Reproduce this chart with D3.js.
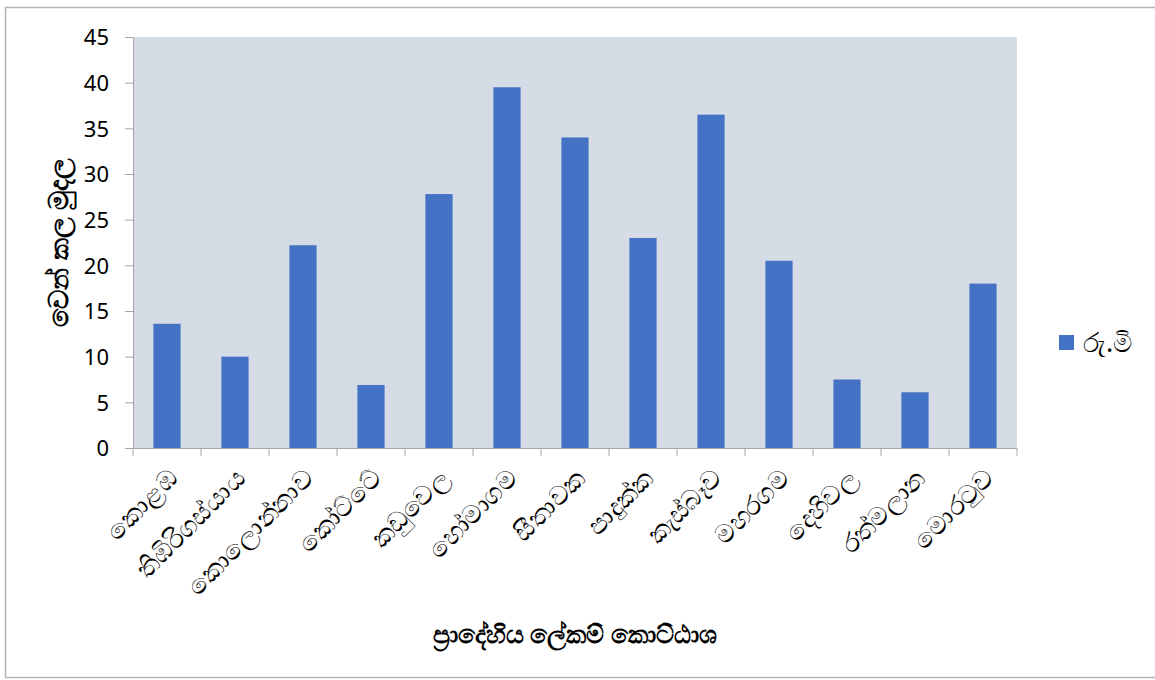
<!DOCTYPE html>
<html>
<head>
<meta charset="utf-8">
<script src="https://cdn.jsdelivr.net/npm/d3@7"></script>
<style>
  body { margin: 0; background: #fff; }
  text { font-family: "Noto Sans", "Open Sans", sans-serif; fill: #000; }
</style>
</head>
<body>
<div class="canva"></div>
<script>
const divisions = ["කොළඹ", "තිඹිරිගස්යාය", "කොලොන්නාව", "කෝට්ටේ", "කඩුවෙල",
  "හෝමාගම", "සීතාවක", "පාදුක්ක", "කැස්බෑව", "මහරගම", "දෙහිවල", "රත්මලාන", "මොරටුව"];
const amounts = [13.6, 10, 22.2, 6.9, 27.8, 39.5, 34, 23, 36.5, 20.5, 7.5, 6.1, 18];
const yTicks = [0, 5, 10, 15, 20, 25, 30, 35, 40, 45];
const seriesName = "රු.මි";
const xTitle = "ප්‍රාදේහිය ලේකම් කොට්ඨාශ";
const yTitle = "වෙන් කල මුදල";

const width = 1155, height = 680;
const margin = {top: 37, right: 138, bottom: 232, left: 133};
const graphWidth = width - margin.left - margin.right;
const graphHeight = height - margin.top - margin.bottom;

const svg = d3.select(".canva").append("svg")
  .attr("width", width)
  .attr("height", height);

// outer chart border
svg.append("rect")
  .attr("x", 5.5).attr("y", 7.5)
  .attr("width", 1160).attr("height", 670)
  .attr("fill", "none")
  .attr("stroke", "#b4b4b4")
  .attr("stroke-width", 1.5);

const g = svg.append("g")
  .attr("transform", `translate(${margin.left}, ${margin.top})`);

const x = d3.scaleBand()
  .domain(divisions)
  .range([0, graphWidth])
  .paddingInner(0.6)
  .paddingOuter(0.3);

const y = d3.scaleLinear()
  .domain([0, 45])
  .range([graphHeight, 0]);

g.append("rect")
  .attr("width", graphWidth)
  .attr("height", graphHeight)
  .attr("fill", "#d6dce6");

g.selectAll(".bar")
  .data(amounts)
  .enter()
  .append("rect")
  .attr("class", "bar")
  .attr("x", (d, i) => x(divisions[i]))
  .attr("y", d => y(d))
  .attr("width", x.bandwidth())
  .attr("height", d => graphHeight - y(d))
  .attr("fill", "#4472c4");

// y axis
const yAxis = d3.axisLeft(y)
  .tickValues(yTicks)
  .tickSize(8)
  .tickPadding(16);
const yg = g.append("g").call(yAxis);
yg.selectAll("text").style("font-size", "22px").attr("dy", "0.35em");

// x axis with ticks between categories
const xAxisG = g.append("g").attr("transform", `translate(0, ${graphHeight})`);
xAxisG.append("line")
  .attr("x1", 0).attr("x2", graphWidth)
  .attr("y1", 0.5).attr("y2", 0.5);
const step = graphWidth / divisions.length;
xAxisG.selectAll(".xtick")
  .data(d3.range(divisions.length + 1))
  .enter()
  .append("line")
  .attr("class", "xtick")
  .attr("x1", i => i * step).attr("x2", i => i * step)
  .attr("y1", 0).attr("y2", 8);
xAxisG.selectAll(".xlabel")
  .data(divisions)
  .enter()
  .append("text")
  .attr("class", "xlabel")
  .attr("text-anchor", "end")
  .attr("transform", d => `translate(${x(d) + x.bandwidth() / 2 + 12}, 32) rotate(-45)`)
  .style("font-size", "26px")
  .text(d => d);

g.selectAll(".domain, line").attr("stroke", "#a6a6a6");
yg.selectAll(".tick line").attr("stroke", "#a6a6a6");

// axis titles
svg.append("text")
  .attr("transform", `translate(68, ${margin.top + graphHeight / 2}) rotate(-90)`)
  .attr("text-anchor", "middle")
  .style("font-size", "27px")
  .style("font-weight", "bold")
  .text(yTitle);

svg.append("text")
  .attr("x", margin.left + graphWidth / 2)
  .attr("y", 643)
  .attr("text-anchor", "middle")
  .style("font-size", "25px")
  .style("font-weight", "bold")
  .text(xTitle);

// legend
const legend = svg.append("g").attr("transform", "translate(1059, 335)");
legend.append("rect")
  .attr("width", 15).attr("height", 15)
  .attr("fill", "#4472c4");
legend.append("text")
  .attr("x", 24).attr("y", 17)
  .style("font-size", "27px")
  .text(seriesName);
</script>
</body>
</html>
